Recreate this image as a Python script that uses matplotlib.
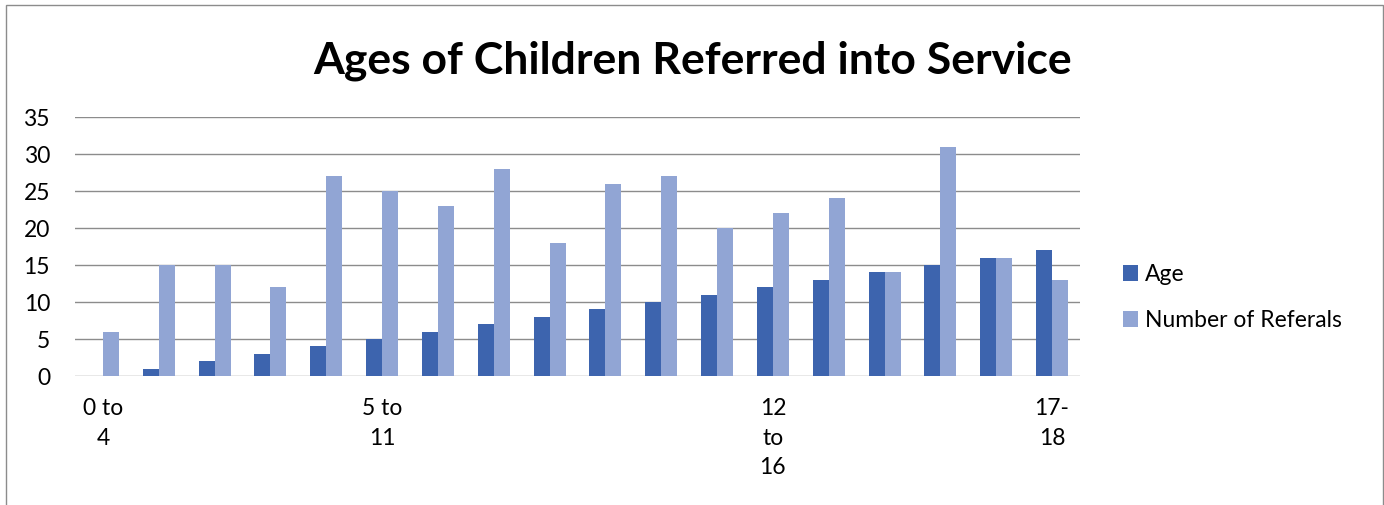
import matplotlib
matplotlib.use("Agg")
import matplotlib.pyplot as plt
from matplotlib.patches import Rectangle
import numpy as np

plt.rcParams['font.family'] = ['Lato', 'DejaVu Sans']

ages = list(range(18))
age_values = [0, 1, 2, 3, 4, 5, 6, 7, 8, 9, 10, 11, 12, 13, 14, 15, 16, 17]
referrals = [6, 15, 15, 12, 27, 25, 23, 28, 18, 26, 27, 20, 22, 24, 14, 31, 16, 13]
tick_pos = [0, 5, 12, 17]
tick_labels = ["0 to\n4", "5 to\n11", "12\nto\n16", "17-\n18"]

dark = '#3d64ae'
light = '#91a5d4'
grid = '#8c8c8c'

fig = plt.figure(figsize=(13.84, 5.05), dpi=100)
ax = fig.add_axes([0.0542, 0.2554, 0.7261, 0.5129])

x = np.arange(len(ages))
w = 0.2866
ax.bar(x - w / 2, age_values, w, color=dark, label='Age', zorder=3)
ax.bar(x + w / 2, referrals, w, color=light, label='Number of Referals', zorder=3)

ax.set_xlim(-0.5, 17.5)
ax.set_ylim(0, 35)
ax.set_yticks(range(0, 36, 5))
ax.yaxis.grid(True, color=grid, linewidth=1, zorder=0)
for s in ax.spines.values():
    s.set_visible(False)
ax.tick_params(axis='y', length=0, pad=18, labelsize=16.5)
ax.set_xticks(tick_pos)
ax.set_xticklabels(tick_labels, fontsize=16.5, linespacing=1.5)
ax.tick_params(axis='x', length=0, pad=16)

fig.text(0.5007, 0.855, 'Ages of Children Referred into Service',
         ha='center', va='baseline', fontsize=32, fontweight='bold')

fig.legend(loc='center left', bbox_to_anchor=(0.8114, 0.411), frameon=False,
           fontsize=16.5, handlelength=0.66, handleheight=0.66,
           handletextpad=0.3, labelspacing=1.1, borderpad=0, borderaxespad=0)

fig.patches.append(Rectangle((0.0043, -0.1), 0.995, 1.09, transform=fig.transFigure,
                             fill=False, edgecolor=grid, linewidth=1))

fig.savefig('out.png', dpi=100)
